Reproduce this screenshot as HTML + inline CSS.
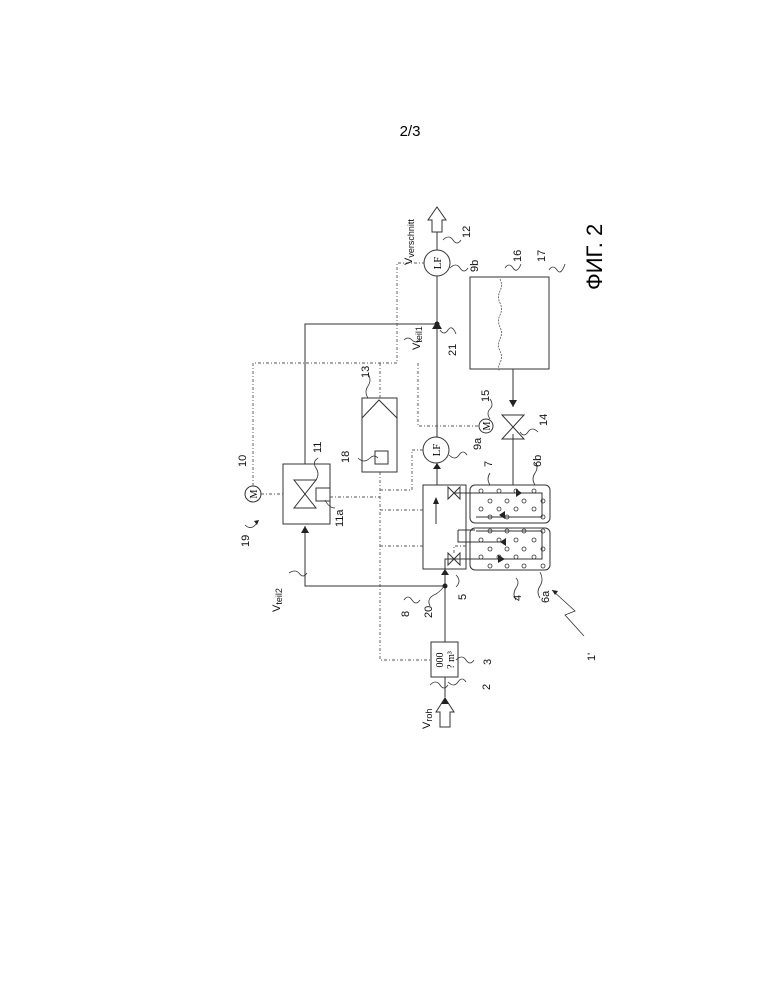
<!DOCTYPE html>
<html><head><meta charset="utf-8"><style>
html,body{margin:0;padding:0;background:#fff;}
svg{display:block;font-family:"Liberation Sans",sans-serif;}
</style></head><body>
<svg width="772" height="999" viewBox="0 0 772 999" xmlns="http://www.w3.org/2000/svg">
<rect width="772" height="999" fill="#fff"/>
<text x="410" y="136" font-size="15" text-anchor="middle">2/3</text>
<g stroke="#333" fill="none" stroke-width="1">
<line x1="445" y1="697" x2="445" y2="677"/>
<line x1="445" y1="642" x2="445" y2="569"/>
<line x1="437" y1="463" x2="437" y2="485"/>
<line x1="437" y1="437" x2="437" y2="276"/>
<line x1="437" y1="250" x2="437" y2="232"/>
<path d="M440 727 L440 712 L436 712 L445 698 L454 712 L450 712 L450 727 Z"/>
<path d="M432 232 L432 220 L428 220 L437 207 L446 220 L442 220 L442 232 Z"/>
<rect x="431" y="642" width="27" height="35"/>
<polyline points="445,586 305,586 305,526"/>
<polyline points="305,464 305,324 437,324"/>
<rect x="283" y="464" width="47" height="60"/>
<path d="M294 480 L316 480 L294 508 L316 508 Z"/>
<rect x="316" y="488" width="14" height="13"/>
<rect x="423" y="485" width="43" height="84"/>
<path d="M445 569 L445 559 L500 559"/>
<path d="M448 553 L460 565 L460 553 L448 565 Z"/>
<path d="M448 487 L460 499 L460 487 L448 499 Z"/>
<path d="M454 493 L515 493"/>
<path d="M436 524 L436 500"/>
<path d="M458 530 L458 542 L501 542"/>
<path d="M458 530 L475 530"/>
<rect x="470" y="485" width="80" height="38" rx="5"/>
<rect x="470" y="528" width="80" height="42" rx="5"/>
<path d="M476 493 L542 493 L542 517 L476 517"/>
<path d="M476 531 L542 531 L542 559 L476 559"/>
<rect x="362" y="398" width="35" height="74"/>
<path d="M362 418 L379 400 L397 418"/>
<rect x="375" y="451" width="13" height="13"/>
<circle cx="436" cy="450" r="13"/>
<circle cx="437" cy="263" r="13"/>
<rect x="470" y="277" width="79" height="92"/>
<path d="M513 369 L513 407"/>
<path d="M513 434 L513 485"/>
<path d="M502 415 L524 415 L502 439 L524 439 Z"/>
<circle cx="486" cy="426" r="7"/>
<circle cx="253" cy="494" r="8"/>
</g>
<g fill="#222">
<path d="M441 704 L445 697 L449 704 Z"/>
<path d="M432 329 L437 321 L442 329 Z"/>
<circle cx="437" cy="324" r="2.5"/>
<circle cx="445" cy="586" r="2.5"/>
<path d="M301 533 L305 526 L309 533 Z"/>
<path d="M441 575 L445 569 L449 575 Z"/>
<path d="M433 469 L437 463 L441 469 Z"/>
<path d="M509 400 L513 407 L517 400 Z"/>
<path d="M516 489 L522 493 L516 497 Z"/>
<path d="M498 555 L505 559 L498 563 Z"/>
<path d="M506 538 L500 542 L506 546 Z"/>
<path d="M505 511 L499 515 L505 519 Z"/>
<path d="M433 504 L436 497 L439 504 Z"/>
</g>
<g stroke="#555" fill="none" stroke-width="0.9" stroke-dasharray="3,2,1,2">
<polyline points="253,486 253,363 397,363 397,263 424,263"/>
<polyline points="380,363 380,398"/>
<polyline points="418,363 418,426 479,426"/>
<polyline points="380,472 380,660 431,660"/>
<polyline points="380,490 412,490 412,450 423,450"/>
<polyline points="261,494 283,494"/>
<polyline points="330,497 380,497"/>
<polyline points="380,510 423,510"/>
<polyline points="380,546 423,546"/>
<polyline points="466,546 454,546 454,553"/>
</g>
<path d="M500 279 q3 6 0 12 q-3 6 0 12 q3 6 0 12 q-3 6 0 12 q3 6 0 12 q-3 6 0 12 q3 6 0 12 q-3 6 0 8" stroke="#555" fill="none" stroke-width="0.8" stroke-dasharray="2,1"/>
<g stroke="#333" fill="none" stroke-width="0.8">
<circle cx="481" cy="491" r="2"/><circle cx="499" cy="491" r="2"/><circle cx="516" cy="491" r="2"/><circle cx="534" cy="491" r="2"/>
<circle cx="490" cy="501" r="2"/><circle cx="507" cy="501" r="2"/><circle cx="524" cy="501" r="2"/><circle cx="543" cy="501" r="2"/>
<circle cx="481" cy="509" r="2"/><circle cx="499" cy="509" r="2"/><circle cx="516" cy="509" r="2"/><circle cx="534" cy="509" r="2"/>
<circle cx="490" cy="517" r="2"/><circle cx="507" cy="517" r="2"/><circle cx="543" cy="517" r="2"/>
<circle cx="490" cy="531" r="2"/><circle cx="507" cy="531" r="2"/><circle cx="524" cy="531" r="2"/><circle cx="543" cy="531" r="2"/>
<circle cx="481" cy="540" r="2"/><circle cx="499" cy="540" r="2"/><circle cx="516" cy="540" r="2"/><circle cx="534" cy="540" r="2"/>
<circle cx="490" cy="549" r="2"/><circle cx="507" cy="549" r="2"/><circle cx="524" cy="549" r="2"/><circle cx="543" cy="549" r="2"/>
<circle cx="481" cy="557" r="2"/><circle cx="499" cy="557" r="2"/><circle cx="516" cy="557" r="2"/><circle cx="534" cy="557" r="2"/>
<circle cx="490" cy="566" r="2"/><circle cx="507" cy="566" r="2"/><circle cx="524" cy="566" r="2"/><circle cx="543" cy="566" r="2"/>
</g>
<g stroke="#333" fill="none" stroke-width="0.8">
<path d="M443 240 q6 -6 10 0 q4 6 8 0"/>
<path d="M450 268 q6 -6 10 0 q4 6 8 0"/>
<path d="M505 268 q4 -6 8 0 q4 6 8 -4"/>
<path d="M549 270 q4 -6 8 0 q4 6 8 -6"/>
<path d="M440 330 q4 6 8 0 q4 -6 8 4"/>
<path d="M404 340 q4 -4 8 0 q4 4 8 0"/>
<path d="M368 398 q-4 -6 0 -12 q4 -6 0 -12"/>
<path d="M490 419 q-4 -6 0 -10 q4 -4 0 -10"/>
<path d="M520 432 q4 6 8 0 q4 -6 10 0"/>
<path d="M449 455 q6 6 10 0 q4 -6 8 0"/>
<path d="M316 480 q4 -6 0 -12 q-4 -6 2 -10"/>
<path d="M325 500 q4 8 10 8"/>
<path d="M358 458 q6 6 12 0 q4 -4 8 0"/>
<path d="M490 485 q-4 -6 0 -12"/>
<path d="M535 485 q-4 -6 0 -12 q4 -6 0 -10"/>
<path d="M456 575 q6 6 0 12"/>
<path d="M430 606 q-4 -8 6 -12 q6 -4 8 -8"/>
<path d="M404 600 q4 -6 8 0 q4 6 8 0"/>
<path d="M289 573 q6 -4 10 0 q4 6 8 0"/>
<path d="M516 600 q-4 -6 0 -12 q4 -6 0 -10"/>
<path d="M540 598 q-4 -6 0 -12 q4 -6 0 -14"/>
<path d="M456 660 q6 -6 10 0 q4 6 8 0"/>
<path d="M448 682 q6 6 10 0 q4 -6 8 0"/>
<path d="M430 685 q6 -6 10 0 q4 6 8 0"/>
<path d="M245 525 q6 6 12 -2"/>
<path d="M584 636 L565 615 L575 611 L552 590"/>
</g>
<path d="M257 525 l-3 -4 l5 -1 z" fill="#222"/>
<path d="M552 590 l6 1 l-3 4 z" fill="#222"/>
<g font-family="Liberation Serif,serif" font-size="11">
<text transform="translate(441,263) rotate(-90)" text-anchor="middle">LF</text>
<text transform="translate(440,450) rotate(-90)" text-anchor="middle">LF</text>
<text transform="translate(490,426) rotate(-90)" text-anchor="middle" font-size="10">M</text>
<text transform="translate(257,494) rotate(-90)" text-anchor="middle" font-size="10">M</text>
<text transform="translate(443,660) rotate(-90)" text-anchor="middle" font-size="10">000</text>
<text transform="translate(454,660) rotate(-90)" text-anchor="middle" font-size="10">? m³</text>
</g>
<g font-size="11" fill="#111">
<text transform="translate(412,265) rotate(-90)">V<tspan font-size="9" dy="2">verschnitt</tspan></text>
<text transform="translate(420,350) rotate(-90)">V<tspan font-size="9" dy="2">teil1</tspan></text>
<text transform="translate(280,612) rotate(-90)">V<tspan font-size="9" dy="2">teil2</tspan></text>
<text transform="translate(430,729) rotate(-90)">V<tspan font-size="9" dy="2">roh</tspan></text>
<text transform="translate(470,238) rotate(-90)">12</text>
<text transform="translate(478,272) rotate(-90)">9b</text>
<text transform="translate(521,262) rotate(-90)">16</text>
<text transform="translate(545,262) rotate(-90)">17</text>
<text transform="translate(456,356) rotate(-90)">21</text>
<text transform="translate(369,378) rotate(-90)">13</text>
<text transform="translate(489,402) rotate(-90)">15</text>
<text transform="translate(547,426) rotate(-90)">14</text>
<text transform="translate(481,450) rotate(-90)">9a</text>
<text transform="translate(246,467) rotate(-90)">10</text>
<text transform="translate(321,453) rotate(-90)">11</text>
<text transform="translate(349,463) rotate(-90)">18</text>
<text transform="translate(492,467) rotate(-90)">7</text>
<text transform="translate(541,467) rotate(-90)">6b</text>
<text transform="translate(249,547) rotate(-90)">19</text>
<text transform="translate(343,527) rotate(-90)">11a</text>
<text transform="translate(409,617) rotate(-90)">8</text>
<text transform="translate(432,618) rotate(-90)">20</text>
<text transform="translate(466,600) rotate(-90)">5</text>
<text transform="translate(521,601) rotate(-90)">4</text>
<text transform="translate(549,603) rotate(-90)">6a</text>
<text transform="translate(595,661) rotate(-90)">1'</text>
<text transform="translate(491,665) rotate(-90)">3</text>
<text transform="translate(490,690) rotate(-90)">2</text>
</g>
<text transform="translate(602,290) rotate(-90)" font-size="22">ФИГ. 2</text>
</svg>
</body></html>
